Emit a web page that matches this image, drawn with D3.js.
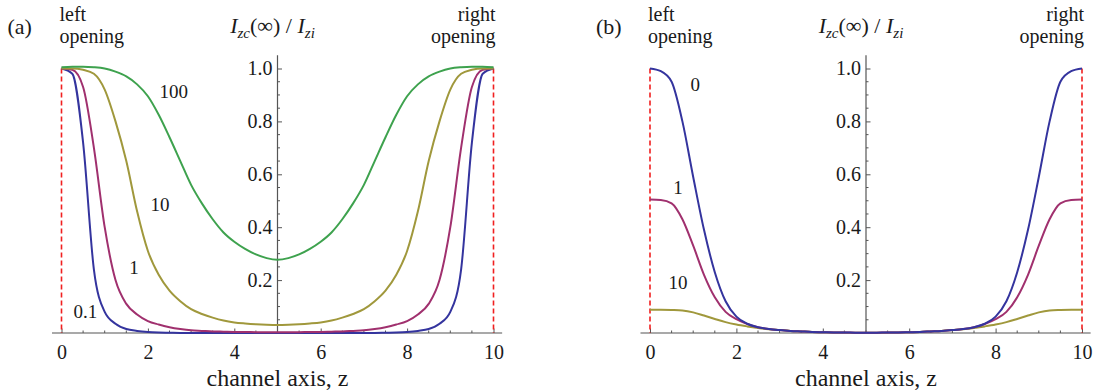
<!DOCTYPE html>
<html>
<head>
<meta charset="utf-8">
<script src="https://cdn.jsdelivr.net/npm/d3@7"></script>
<style>
  body { margin: 0; background: #fff; }
  svg { display: block; }
  svg text { font-family: 'Liberation Serif', 'DejaVu Serif', serif; }
</style>
</head>
<body>
<div id="chart"></div>
<script>
// channel axis positions
const zValues = [0, 0.25, 0.5, 0.75, 1, 1.25, 1.5, 1.75, 2, 2.25, 2.5, 2.75, 3, 3.25, 3.5, 3.75, 4, 4.25, 4.5, 4.75, 5,
  5.25, 5.5, 5.75, 6, 6.25, 6.5, 6.75, 7, 7.25, 7.5, 7.75, 8, 8.25, 8.5, 8.75, 9, 9.25, 9.5, 9.75, 10];

// panel (a)
const a01 = [1.0, 0.98, 0.72, 0.24, 0.08, 0.035, 0.015, 0.008, 0.004, 0.002, 0.001, 0, 0, 0, 0, 0, 0, 0, 0, 0, 0,
  0, 0, 0, 0, 0, 0, 0, 0, 0, 0.001, 0.002, 0.004, 0.008, 0.015, 0.035, 0.08, 0.24, 0.72, 0.98, 1.0];
const a1 = [1.0, 0.995, 0.93, 0.70, 0.40, 0.20, 0.11, 0.07, 0.045, 0.032, 0.022, 0.015, 0.01, 0.008, 0.006, 0.005, 0.004, 0.004, 0.003, 0.003, 0.003,
  0.003, 0.003, 0.004, 0.004, 0.005, 0.006, 0.008, 0.01, 0.015, 0.022, 0.032, 0.045, 0.07, 0.11, 0.20, 0.40, 0.70, 0.93, 0.995, 1.0];
const a10 = [1.0, 1.0, 0.995, 0.98, 0.92, 0.80, 0.65, 0.46, 0.31, 0.22, 0.16, 0.12, 0.09, 0.072, 0.058, 0.047, 0.04, 0.036, 0.033, 0.031, 0.03,
  0.031, 0.033, 0.036, 0.04, 0.047, 0.058, 0.072, 0.09, 0.12, 0.16, 0.22, 0.31, 0.46, 0.65, 0.80, 0.92, 0.98, 0.995, 1.0, 1.0];
const a100 = [1.005, 1.007, 1.007, 1.005, 1.0, 0.988, 0.97, 0.94, 0.895, 0.825, 0.74, 0.65, 0.56, 0.49, 0.43, 0.38, 0.345, 0.318, 0.297, 0.283, 0.277,
  0.283, 0.297, 0.318, 0.345, 0.38, 0.43, 0.49, 0.56, 0.65, 0.74, 0.825, 0.895, 0.94, 0.97, 0.988, 1.0, 1.005, 1.007, 1.007, 1.005];

// panel (b)
const b0 = [1.0, 0.99, 0.95, 0.80, 0.59, 0.39, 0.23, 0.12, 0.062, 0.035, 0.022, 0.015, 0.011, 0.008, 0.006, 0.004, 0.003, 0.002, 0.002, 0.001, 0.001,
  0.001, 0.002, 0.002, 0.003, 0.004, 0.006, 0.008, 0.011, 0.015, 0.022, 0.035, 0.062, 0.12, 0.23, 0.39, 0.59, 0.80, 0.95, 0.99, 1.0];
const b1 = [0.505, 0.503, 0.49, 0.43, 0.33, 0.22, 0.135, 0.08, 0.052, 0.034, 0.022, 0.015, 0.011, 0.008, 0.006, 0.004, 0.003, 0.002, 0.002, 0.001, 0.001,
  0.001, 0.002, 0.002, 0.003, 0.004, 0.006, 0.008, 0.011, 0.015, 0.022, 0.034, 0.052, 0.08, 0.135, 0.22, 0.33, 0.43, 0.49, 0.503, 0.505];
const b10 = [0.088, 0.088, 0.087, 0.085, 0.078, 0.066, 0.053, 0.041, 0.032, 0.025, 0.019, 0.014, 0.011, 0.008, 0.006, 0.004, 0.003, 0.002, 0.0015, 0.001, 0.001,
  0.001, 0.0015, 0.002, 0.003, 0.004, 0.006, 0.008, 0.011, 0.014, 0.019, 0.025, 0.032, 0.041, 0.053, 0.066, 0.078, 0.085, 0.087, 0.088, 0.088];

const xTickLabels = [0, 2, 4, 6, 8, 10];
const yTickLabels = [0.2, 0.4, 0.6, 0.8, 1.0];

const colors = { blue: "#34349e", magenta: "#a0306e", olive: "#a0983c", green: "#3ea24e" };

const panels = [
  {
    tag: "(a)", x0: 61.5,
    series: [
      { values: a01, color: colors.blue, label: "0.1", lz: 0.55, lv: 0.08 },
      { values: a1, color: colors.magenta, label: "1", lz: 1.68, lv: 0.25 },
      { values: a10, color: colors.olive, label: "10", lz: 2.28, lv: 0.485 },
      { values: a100, color: colors.green, label: "100", lz: 2.6, lv: 0.915 }
    ]
  },
  {
    tag: "(b)", x0: 650,
    series: [
      { values: b10, color: colors.olive, label: "10", lz: 0.65, lv: 0.19 },
      { values: b1, color: colors.magenta, label: "1", lz: 0.65, lv: 0.55 },
      { values: b0, color: colors.blue, label: "0", lz: 1.05, lv: 0.94 }
    ]
  }
];

const width = 1099, height = 390;
const svg = d3.select("#chart").append("svg")
  .attr("width", width)
  .attr("height", height);

const y = d3.scaleLinear().domain([0, 1]).range([333, 68.5]);

panels.forEach(p => {
  const x = d3.scaleLinear().domain([0, 10]).range([p.x0, p.x0 + 432]);
  const g = svg.append("g");
  const axisColor = "#555";

  // axis lines
  g.append("line")
    .attr("x1", x(-0.22)).attr("x2", x(10.2))
    .attr("y1", y(0)).attr("y2", y(0))
    .attr("stroke", axisColor).attr("stroke-width", 1.2);
  g.append("line")
    .attr("x1", x(5)).attr("x2", x(5))
    .attr("y1", y(0)).attr("y2", y(1.05))
    .attr("stroke", axisColor).attr("stroke-width", 1.2);

  // x ticks (pointing up), labels below
  const xAxis = d3.axisBottom(x).tickValues(xTickLabels).tickSize(-4.5).tickPadding(12)
    .tickFormat(d3.format("d"));
  const gx = g.append("g").attr("transform", `translate(0,${y(0)})`).call(xAxis)
    .attr("font-size", 20);
  gx.select(".domain").remove();
  gx.selectAll("line").attr("stroke", axisColor);
  gx.selectAll("text").attr("fill", "#1a1a1a");
  const xMinor = d3.range(0, 10.01, 0.5).filter(v => v % 2 !== 0);
  g.selectAll(".xminor").data(xMinor).join("line")
    .attr("x1", d => x(d)).attr("x2", d => x(d))
    .attr("y1", y(0)).attr("y2", y(0) - 2.5)
    .attr("stroke", axisColor);

  // y ticks (pointing right), labels left
  const yAxis = d3.axisLeft(y).tickValues(yTickLabels).tickSize(-4.5).tickPadding(5)
    .tickFormat(d3.format(".1f"));
  const gy = g.append("g").attr("transform", `translate(${x(5)},0)`).call(yAxis)
    .attr("font-size", 20);
  gy.select(".domain").remove();
  gy.selectAll("line").attr("stroke", axisColor);
  gy.selectAll("text").attr("fill", "#1a1a1a");
  const yMinor = d3.range(0.05, 1.001, 0.05).filter(v => Math.abs(v * 5 - Math.round(v * 5)) > 1e-6);
  g.selectAll(".yminor").data(yMinor).join("line")
    .attr("x1", x(5)).attr("x2", x(5) + 2.5)
    .attr("y1", d => y(d)).attr("y2", d => y(d))
    .attr("stroke", axisColor);

  // openings
  g.selectAll(".opening").data([0, 10]).join("line")
    .attr("x1", d => x(d)).attr("x2", d => x(d))
    .attr("y1", y(1)).attr("y2", y(0))
    .attr("stroke", "#f02020").attr("stroke-width", 1.6)
    .attr("stroke-dasharray", "5,3");

  // curves
  const line = d3.line()
    .x((d, i) => x(zValues[i]))
    .y(d => y(d))
    .curve(d3.curveMonotoneX);
  p.series.forEach(s => {
    g.append("path")
      .attr("d", line(s.values))
      .attr("fill", "none")
      .attr("stroke", s.color)
      .attr("stroke-width", 2);
    g.append("text")
      .attr("x", x(s.lz)).attr("y", y(s.lv))
      .attr("text-anchor", "middle").attr("dy", "0.35em")
      .attr("font-size", 19).attr("fill", "#1a1a1a")
      .text(s.label);
  });

  // header texts
  const txt = (tx, ty, size, s, anchor) => g.append("text")
    .attr("x", tx).attr("y", ty).attr("font-size", size).attr("fill", "#1a1a1a")
    .attr("text-anchor", anchor || "start").text(s);
  txt(p.x0 - 54, 34, 22, p.tag);
  txt(p.x0 - 2, 21, 20, "left");
  txt(p.x0 - 2, 43, 20, "opening");
  txt(x(10) + 2, 21, 20, "right", "end");
  txt(x(10) + 2, 43, 20, "opening", "end");

  const title = g.append("text").attr("x", x(5) - 5).attr("y", 33).attr("fill", "#1a1a1a")
    .attr("text-anchor", "middle").attr("font-size", 22);
  title.append("tspan").attr("font-style", "italic").text("I");
  title.append("tspan").attr("font-style", "italic").attr("font-size", 15).attr("dy", 5).text("zc");
  title.append("tspan").attr("dy", -5).text("(\u221e) / ");
  title.append("tspan").attr("font-style", "italic").text("I");
  title.append("tspan").attr("font-style", "italic").attr("font-size", 15).attr("dy", 5).text("zi");

  txt(x(5), 386, 24, "channel axis, z", "middle");
});
</script>
</body>
</html>
